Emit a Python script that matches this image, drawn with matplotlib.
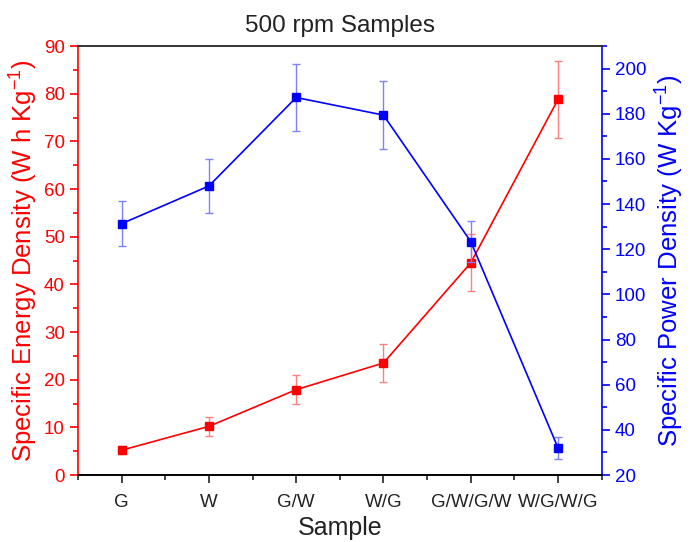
import matplotlib
matplotlib.use("Agg")
import matplotlib.pyplot as plt
from matplotlib.ticker import MultipleLocator

plt.rcParams['font.family'] = ['Liberation Sans', 'DejaVu Sans']
plt.rcParams['mathtext.fontset'] = 'custom'
plt.rcParams['mathtext.rm'] = 'Liberation Sans'
plt.rcParams['mathtext.it'] = 'Liberation Sans'

samples = ['G', 'W', 'G/W', 'W/G', 'G/W/G/W', 'W/G/W/G']
energy = [5.2, 10.2, 17.9, 23.5, 44.5, 78.8]
energy_err = [0.8, 2.0, 3.0, 4.0, 6.0, 8.0]
power = [131.3, 148.0, 187.2, 179.4, 123.4, 32.0]
power_err = [10.0, 12.0, 15.0, 15.0, 9.0, 5.0]

x = list(range(len(samples)))

fig = plt.figure(figsize=(6.9, 5.42), dpi=100)
ax = fig.add_axes([0.113, 0.1236, 0.759, 0.7915])
ax2 = ax.twinx()

ax.errorbar(x, energy, yerr=energy_err, color='#ff0000', marker='s', markersize=6,
            linewidth=1.2, ecolor='#ff8080', elinewidth=1, capsize=3, capthick=1, zorder=3)
ax2.errorbar(x, power, yerr=power_err, color='#0000ff', marker='s', markersize=6,
             linewidth=1.2, ecolor='#8080ff', elinewidth=1, capsize=3, capthick=1, zorder=3)

ax.set_xlim(-0.5, 5.5)
ax.set_ylim(0, 90)
ax2.set_ylim(20, 210)
ax.set_xticks(x)
ax.set_xticklabels(samples)
ax.xaxis.set_minor_locator(MultipleLocator(0.5))
ax.yaxis.set_major_locator(MultipleLocator(10))
ax.yaxis.set_minor_locator(MultipleLocator(5))
ax2.set_yticks([20, 40, 60, 80, 100, 120, 140, 160, 180, 200])
ax2.yaxis.set_minor_locator(MultipleLocator(10))

for a in (ax, ax2):
    for s in a.spines.values():
        s.set_linewidth(1.2)
ax.spines['left'].set_color('#ff0000')
ax2.spines['left'].set_visible(False)
ax2.spines['right'].set_color('#0000ff')
ax.spines['right'].set_visible(False)
ax.spines['top'].set_color('#333333')
ax2.spines['top'].set_color('#333333')

ax.tick_params(axis='x', which='major', length=6, width=1.2, labelsize=13.5, colors='#222222', pad=8)
ax.tick_params(axis='x', which='minor', length=3.5, width=1.2, colors='#222222')
ax.tick_params(axis='y', which='major', length=6, width=1.2, labelsize=13.5, colors='#ff0000')
ax.tick_params(axis='y', which='minor', length=3.5, width=1.2, colors='#ff0000')
ax2.tick_params(axis='y', which='major', length=6, width=1.2, labelsize=13.5, colors='#0000ff')
ax2.tick_params(axis='y', which='minor', length=3.5, width=1.2, colors='#0000ff')

ax.set_xlabel('Sample', fontsize=18, color='#222222', labelpad=3)
ax.set_ylabel(r'Specific Energy Density (W h Kg$^{\mathregular{-1}}$)', fontsize=18.5,
              color='#ff0000', labelpad=3)
ax2.set_ylabel(r'Specific Power Density (W Kg$^{\mathregular{-1}}$)', fontsize=18.5,
               color='#0000ff', labelpad=5)
ax.set_title('500 rpm Samples', fontsize=17.5, color='#222222', pad=10)

fig.savefig('out.png', dpi=100)
